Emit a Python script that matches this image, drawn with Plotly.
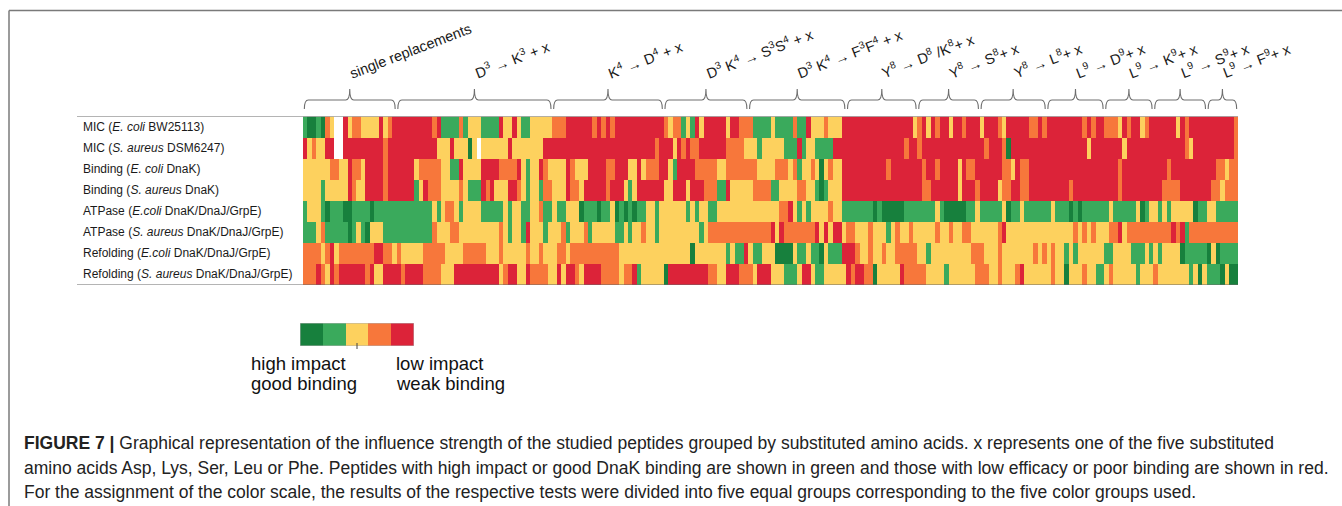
import numpy as np
import plotly.graph_objects as go

W, H = 1342, 506

# ---------------- data ----------------
ROW_LABELS = [
    "MIC (<i>E. coli</i> BW25113)",
    "MIC (<i>S. aureus</i> DSM6247)",
    "Binding (<i>E. coli</i> DnaK)",
    "Binding (<i>S. aureus</i> DnaK)",
    "ATPase (<i>E.coli</i> DnaK/DnaJ/GrpE)",
    "ATPase (<i>S. aureus</i> DnaK/DnaJ/GrpE)",
    "Refolding (<i>E.coli</i> DnaK/DnaJ/GrpE)",
    "Refolding (<i>S. aureus</i> DnaK/DnaJ/GrpE)",
]

GROUP_LABELS = [
    "single replacements",
    "D<sup>3</sup> → K<sup>3</sup> + x",
    "K<sup>4</sup> → D<sup>4</sup> + x",
    "D<sup>3</sup> K<sup>4</sup> → S<sup>3</sup>S<sup>4</sup> + x",
    "D<sup>3</sup> K<sup>4</sup> → F<sup>3</sup>F<sup>4</sup> + x",
    "Y<sup>8</sup> → D<sup>8</sup> /K<sup>8</sup>+ x",
    "Y<sup>8</sup> → S<sup>8</sup>+ x",
    "Y<sup>8</sup> → L<sup>8</sup>+ x",
    "L<sup>9</sup> → D<sup>9</sup>+ x",
    "L<sup>9</sup> → K<sup>9</sup>+ x",
    "L<sup>9</sup> → S<sup>9</sup>+ x",
    "L<sup>9</sup> → F<sup>9</sup>+ x",
]
GROUP_SIZES = [21, 35, 25, 19, 22, 16, 14, 15, 13, 11, 12, 7]

# level per peptide: 1 = high impact / good binding ... 5 = low impact / weak binding, 0 = no data
MIC_ECOLI = (
    "21121430053443333534" "555555555" "45" "2222" "42" "333" "2222" "5" "33" "5" "3" "22" "33"
    "333" "444" "555555" "45454" "55555555555" "4344" "23253" "55555" "3" "55" "444" "2222"
    "3" "2222" "4" "22" "5" "333" "4" "333" "55555555" "55555555" "345354" "55" "3" "55" "4" "555" "3" "555"
    "4" "3" "55555" "44" "5" "4" "55555555" "4" "5" "4" "55" "444" "3" "5" "4" "55" "3" "4" "555555" "3" "5" "4" "5555555555" "4"
)
MIC_SAUREUS = (
    "5343355" "00" "555555555" "4" "55555555555" "333" "5" "333" "1" "3" "0" "333333" "5" "333333"
    "3" "5555555555" "5555555555" "55555" "4" "555" "3" "5" "4" "5" "44" "555555" "4444" "333" "2" "33"
    "333" "222" "5" "2" "33" "2222" "55555555" "55555555" "4" "55" "4" "5555555" "5555555" "4" "55"
    "5" "4" "1" "5555555555" "5555555" "3" "5555555" "3" "5555555555" "555" "4" "3" "555555555" "4"
)
BIND_ECOLI = (
    "333333" "44" "33" "5" "44" "3" "5555" "4" "555555" "3" "44444" "33" "22" "5" "3333" "5555" "4444" "5" "3" "2" "33"
    "5" "4" "3333" "5" "4" "333" "5555" "44" "555" "33" "5" "3" "444" "55" "3" "2" "5555" "44444" "33" "4444444" "333"
    "3" "444" "3" "4" "2" "33" "4" "3" "1" "3" "4" "33" "5555555555" "4" "5555555" "4" "55" "4" "5555" "3" "5" "44" "55555"
    "5" "44" "3" "5" "44" "5555555555" "5555555555" "4" "5555555555" "4" "5555555555" "44" "3" "44"
)
BIND_SAUREUS = (
    "3333" "2" "33333" "5" "4" "33" "5555" "4" "555555" "2" "3" "5" "444" "3333" "4" "3" "222" "5" "4" "5" "333" "55" "4" "3" "2" "33"
    "2" "44" "333" "5" "44" "3" "55555" "4" "555" "3" "2" "3" "555555" "33" "555" "3" "555" "444" "22" "5" "33333" "4444"
    "22" "3333" "44" "33" "2" "1" "2" "333" "5555555555" "55555555" "44" "555555" "3" "555" "4" "5555"
    "3" "44" "55" "44" "555555555" "4" "5555555555" "4" "555555555" "4444" "5555555" "44" "3" "444"
)
ATP_ECOLI = (
    "2" "333" "2" "1" "222" "11" "2222" "1" "22222" "22222" "222" "3" "2" "3" "44" "3" "2" "3333" "22222" "3" "2" "33" "22" "33"
    "4" "22" "3" "22" "333" "1" "222" "1" "22" "3" "1" "2" "1" "2" "1" "22" "33" "2" "333333" "2" "3" "2" "33" "22" "333333" "333333"
    "33" "44" "5" "3" "2" "3" "2" "3333" "4" "33" "2222222" "1" "2" "11111" "2" "222222" "3" "2" "11111" "22" "3" "2222"
    "2" "3" "1" "22" "3" "222222" "3" "222" "1" "2" "1" "222222" "3" "22222" "3" "1" "2" "33" "2" "3" "2" "33333" "1" "22" "33" "22222"
)
ATP_SAUREUS = (
    "222" "3" "4" "22222" "1" "2" "3" "2" "1" "333" "22222" "222222" "4" "333" "44" "333333333" "4" "3" "2" "33" "2" "5" "33"
    "3" "2" "333" "4" "2" "333" "4" "2" "33333" "22" "3" "2" "33" "4" "33" "2" "33333333" "3" "2" "3" "4444444" "4444444"
    "5" "3" "5" "4444444" "5" "3" "5" "3" "55" "3" "44" "333" "4" "333" "2" "3" "4" "33" "4" "33333" "4" "33" "4" "33" "44" "333333"
    "4" "5" "33333" "33333" "33333" "4" "3" "4" "3" "4" "333" "44" "5" "3" "4444444444" "5" "4" "5" "2" "44444444444"
)
REF_ECOLI = (
    "4444" "3" "4" "5" "3" "44444444" "55" "44" "3" "4" "33333" "44444" "3333" "44444" "333" "4" "33333" "4" "33"
    "4" "333" "44" "3" "44444444444" "33333333" "33333333" "1" "3333333" "2" "3" "22" "5" "3" "22" "33"
    "3" "1111" "3" "22" "3" "22" "1" "3" "222" "555" "4" "33" "4" "33" "4" "33" "44444" "33" "2" "3" "33333333" "444" "333"
    "4" "3333333" "4" "3" "4" "3" "4" "33" "2" "3" "2" "333333" "22" "3333" "222" "3" "2" "3" "2" "3333" "1" "22222" "1" "3" "1" "222" "2"
)
REF_SAUREUS = (
    "444" "5" "4" "3" "5" "4" "555555" "4" "5" "33" "5555" "4" "5555" "4444" "333" "5555555555" "3" "4" "55" "33" "5" "44"
    "44" "33" "5" "3" "55" "4" "3" "5555" "4444" "3" "44" "5" "2" "33333" "1" "555555555" "44" "33" "555" "444" "3" "555"
    "333" "222" "3" "55" "3" "22" "33333" "5" "4" "55" "44" "1" "33333" "5" "44444" "3333" "2" "333333" "444" "33"
    "4" "333" "4" "5" "333333" "4" "33" "1" "333" "4" "33" "22" "3" "4" "33333" "2" "333" "4" "3333333" "2" "3" "1" "3" "222" "1" "3" "11"
)
ROWS = [MIC_ECOLI, MIC_SAUREUS, BIND_ECOLI, BIND_SAUREUS, ATP_ECOLI, ATP_SAUREUS, REF_ECOLI, REF_SAUREUS]

LEVEL_COLORS = ["#17803d", "#3aaa5c", "#fdd15e", "#f7773b", "#dc2339"]
LEGEND_LEVELS = [1, 2, 3, 4, 5]

CAPTION = [
    "<b>FIGURE 7 |</b> Graphical representation of the influence strength of the studied peptides grouped by substituted amino acids. x represents one of the five substituted",
    "amino acids Asp, Lys, Ser, Leu or Phe. Peptides with high impact or good DnaK binding are shown in green and those with low efficacy or poor binding are shown in red.",
    "For the assignment of the color scale, the results of the respective tests were divided into five equal groups corresponding to the five color groups used.",
]

# ---------------- build ----------------
ncols = sum(GROUP_SIZES)
lens = [len(r) for r in ROWS]
if any(l != ncols for l in lens):
    raise ValueError(f"row lengths {lens} != {ncols}")

Z = np.array([[int(c) for c in r] for r in ROWS], dtype=float)
Z[Z == 0] = np.nan

def px(x):
    return x / W

def py(y):
    return 1 - y / H

n = len(LEVEL_COLORS)
cs = []
for i, c in enumerate(LEVEL_COLORS):
    cs.append([i / n, c])
    cs.append([(i + 1) / n, c])

HM_X0, HM_X1, HM_Y0, HM_Y1 = 303, 1238, 116.5, 285
FONT = "Liberation Sans, Arial, sans-serif"

fig = go.Figure()
fig.add_trace(go.Heatmap(
    z=Z, x=list(range(ncols)), y=list(range(len(ROWS))),
    zmin=0.5, zmax=5.5, colorscale=cs, showscale=False, hoverinfo="skip",
    xaxis="x", yaxis="y"))
fig.add_trace(go.Heatmap(
    z=[LEGEND_LEVELS], x=list(range(len(LEGEND_LEVELS))), y=[0],
    zmin=0.5, zmax=5.5, colorscale=cs, showscale=False, hoverinfo="skip",
    xaxis="x2", yaxis="y2"))

shapes = []
annotations = []

# frame
shapes.append(dict(type="line", xref="paper", yref="paper", x0=px(9), x1=1.0, y0=py(10.5), y1=py(10.5),
                   line=dict(color="#7a7a7a", width=1.5)))
shapes.append(dict(type="line", xref="paper", yref="paper", x0=px(9), x1=px(9), y0=py(10.5), y1=0,
                   line=dict(color="#7a7a7a", width=1.5)))

# top/bottom rules of table
for yv in (-0.5, len(ROWS) - 0.5):
    shapes.append(dict(type="line", xref="paper", yref="y", x0=px(77), x1=px(HM_X1), y0=yv, y1=yv,
                       line=dict(color="#6a6a6a", width=1.2)))

# row labels
for i, lab in enumerate(ROW_LABELS):
    annotations.append(dict(xref="paper", yref="y", x=px(81), y=i, text=lab, showarrow=False,
                            xanchor="left", yanchor="middle", font=dict(family=FONT, size=12, color="#1a1a1a")))

# brackets and group labels
dpp = ncols / (HM_X1 - HM_X0)  # data units per pixel
yb, ym, yt = py(109), py(100), py(89)
c = 4 * dpp
start = 0
for size, lab in zip(GROUP_SIZES, GROUP_LABELS):
    x0 = start - 0.5 + 0.3
    x1 = start + size - 0.5 - 0.3
    t = (x0 + x1) / 2
    path = (f"M {x0},{yb} Q {x0},{ym} {x0 + c},{ym} L {t - c},{ym} Q {t},{ym} {t},{yt} "
            f"Q {t},{ym} {t + c},{ym} L {x1 - c},{ym} Q {x1},{ym} {x1},{yb}")
    shapes.append(dict(type="path", xref="x", yref="paper", path=path,
                       line=dict(color="#6e6e6e", width=1.1)))
    annotations.append(dict(xref="x", yref="paper", x=t - 5 * dpp, y=py(84), text=lab, showarrow=False,
                            xanchor="left", yanchor="bottom", textangle=-21,
                            font=dict(family=FONT, size=14.5, color="#1a1a1a")))
    start += size

# legend bar outline and tick
shapes.append(dict(type="rect", xref="x2", yref="y2", x0=-0.5, x1=len(LEGEND_LEVELS) - 0.5, y0=-0.5, y1=0.5,
                   line=dict(color="#b0b0b0", width=1)))
shapes.append(dict(type="line", xref="x2", yref="paper", x0=2, x1=2, y0=py(343), y1=py(349),
                   line=dict(color="#444", width=1)))
for xx, yy, txt in [(249, 363, "high impact"), (249, 383, "good binding"),
                    (394, 363, "low impact"), (394, 383, "weak binding")]:
    annotations.append(dict(xref="paper", yref="paper", x=px(xx), y=py(yy), text=txt, showarrow=False,
                            xanchor="left", yanchor="middle", font=dict(family=FONT, size=18.5, color="#111")))

# caption
for k, line in enumerate(CAPTION):
    annotations.append(dict(xref="paper", yref="paper", x=px(22), y=py(443 + 24.5 * k), text=line, showarrow=False,
                            xanchor="left", yanchor="middle", font=dict(family=FONT, size=17.5, color="#222")))

fig.update_layout(
    width=W, height=H, autosize=False,
    margin=dict(l=0, r=0, t=0, b=0),
    paper_bgcolor="white", plot_bgcolor="white",
    xaxis=dict(domain=[px(HM_X0), px(HM_X1)], range=[-0.5, ncols - 0.5], visible=False, anchor="y"),
    yaxis=dict(domain=[py(HM_Y1), py(HM_Y0)], range=[len(ROWS) - 0.5, -0.5], visible=False, anchor="x"),
    xaxis2=dict(domain=[px(300), px(414)], range=[-0.5, len(LEGEND_LEVELS) - 0.5], visible=False, anchor="y2"),
    yaxis2=dict(domain=[py(346), py(323)], range=[-0.5, 0.5], visible=False, anchor="x2"),
    shapes=shapes, annotations=annotations, showlegend=False,
)

fig.write_html("out.html", config={"displayModeBar": False},
               post_script="document.body.style.margin='0';document.body.style.overflow='hidden';")
